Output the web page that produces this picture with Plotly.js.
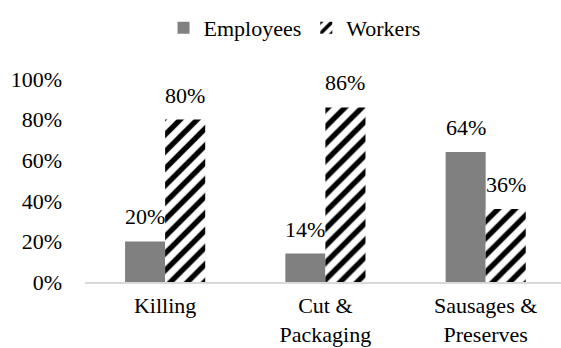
<!DOCTYPE html>
<html>
<head>
<meta charset="utf-8">
<script src="https://cdn.plot.ly/plotly-3.0.1.min.js"></script>
<style>html,body{margin:0;padding:0;background:#fff;}#chart{width:561px;height:348px;}</style>
</head>
<body>
<div id="chart"></div>
<script>
const categories = ["Killing", "Cut &<br>Packaging", "Sausages &<br>Preserves"];
const employees = [0.20, 0.14, 0.64];
const workers = [0.80, 0.86, 0.36];
const yTickVals = [0, 0.2, 0.4, 0.6, 0.8, 1.0];
const yTickText = ["0%", "20%", "40%", "60%", "80%", "100%"];

const FAMILY = "Liberation Serif";
const mkFont = () => ({family: FAMILY, size: 22, color: "#000000"});
const pct = v => Math.round(v * 100) + "%";

const traces = [
  {
    type: "bar", name: "Employees", x: categories, y: employees,
    marker: {color: "#808080"}
  },
  {
    type: "bar", name: "Workers", x: categories, y: workers,
    marker: {color: "#ffffff", pattern: {shape: "/", fgcolor: "#000000", bgcolor: "#ffffff", size: 12, solidity: 0.45}}
  }
];

// value labels above each bar (bar width = 0.25 category units, so offset ±0.125)
const labels = [];
employees.forEach((v, i) => labels.push({xref: "x", yref: "y", x: i - 0.125, y: v, text: pct(v), showarrow: false, yanchor: "bottom", xanchor: "center", yshift: 10, font: mkFont()}));
workers.forEach((v, i) => labels.push({xref: "x", yref: "y", x: i + 0.125, y: v, text: pct(v), showarrow: false, yanchor: "bottom", xanchor: "center", yshift: 10, font: mkFont()}));

const layout = {
  width: 561, height: 348,
  margin: {l: 85, r: 0, t: 79, b: 66, autoexpand: false},
  paper_bgcolor: "#fff", plot_bgcolor: "#fff",
  font: mkFont(),
  barmode: "group", bargap: 0.5, bargroupgap: 0,
  showlegend: true,
  legend: {orientation: "h", x: 0.525, xref: "container", xanchor: "center", y: 0.92, yref: "container", yanchor: "middle", font: mkFont(), itemwidth: 30},
  annotations: labels,
  xaxis: {
    type: "category", range: [-0.5, 2.47],
    showline: true, linecolor: "#d9d9d9", linewidth: 2,
    ticks: "", showgrid: false, zeroline: false, ticklabelstandoff: 3,
    tickfont: mkFont()
  },
  yaxis: {
    range: [0, 1], tickvals: yTickVals, ticktext: yTickText,
    showgrid: false, zeroline: false, showline: false, ticks: "",
    ticklabelstandoff: 22, tickfont: mkFont()
  }
};

Plotly.newPlot("chart", traces, layout, {displayModeBar: false, staticPlot: true});
</script>
</body>
</html>
